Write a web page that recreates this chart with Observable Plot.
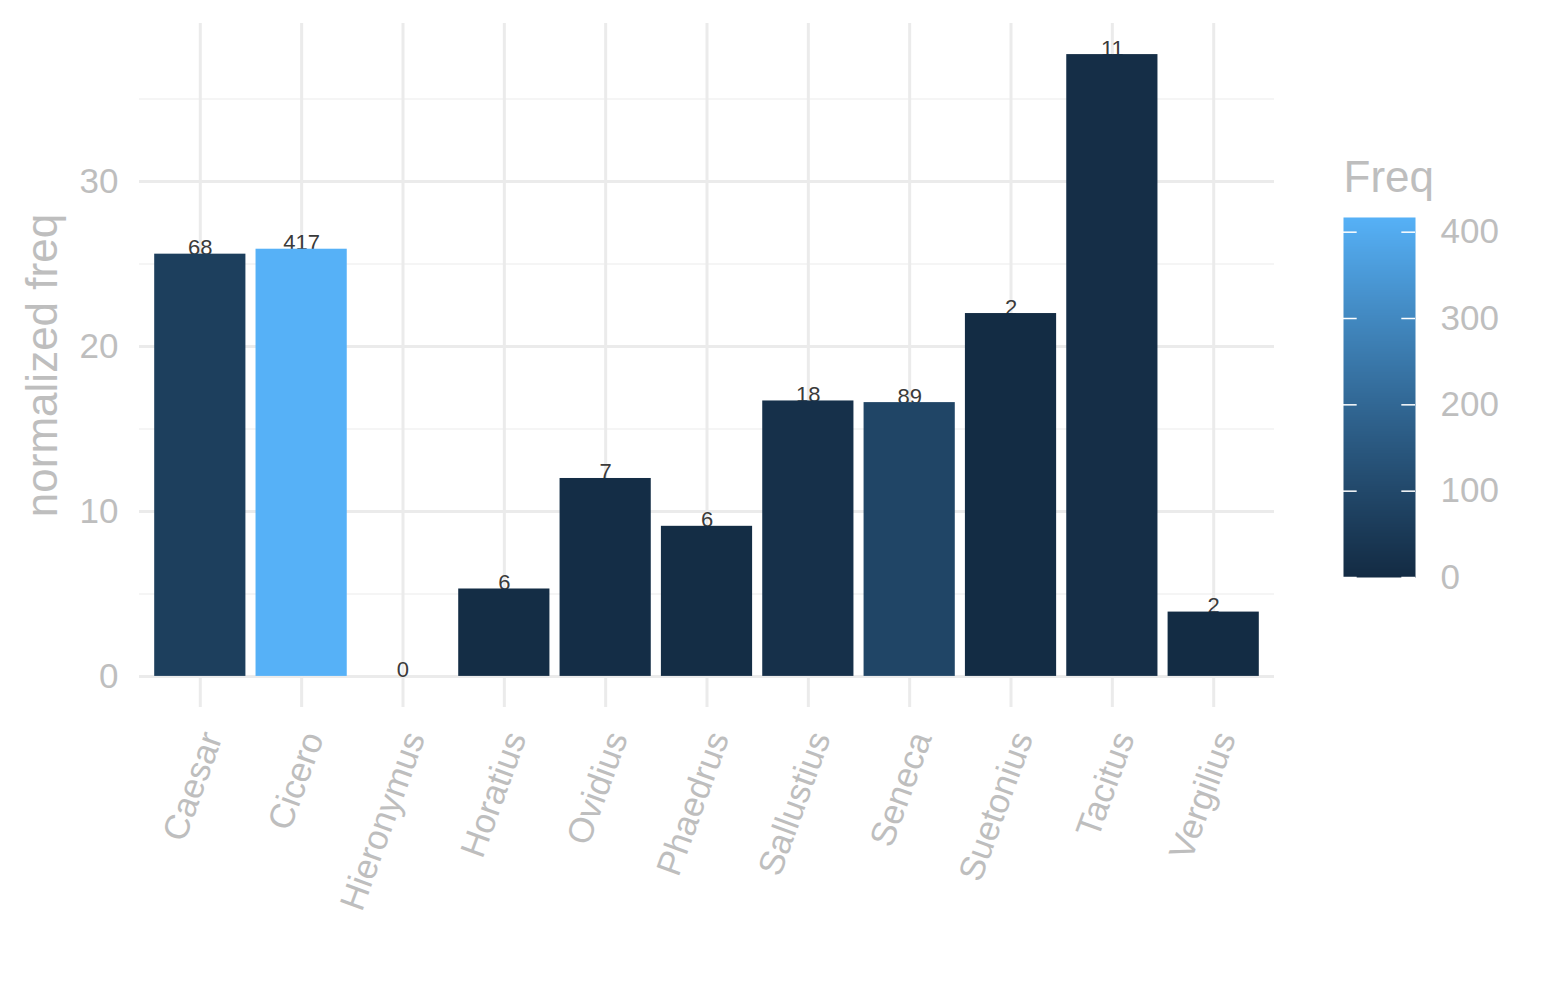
<!DOCTYPE html>
<html>
<head>
<meta charset="utf-8">
<script src="https://cdn.jsdelivr.net/npm/d3@7"></script>
<script src="https://cdn.jsdelivr.net/npm/@observablehq/plot@0.6"></script>
<style>
  body { margin: 0; background: #fff; }
  #wrap { position: relative; width: 1545px; height: 1000px; font-family: "Liberation Sans", Arial, Helvetica, sans-serif; }
  #legend { position: absolute; left: 1343px; top: 150px; }
</style>
</head>
<body>
<div id="wrap"><div id="main"></div><div id="legend"></div></div>
<script>
const authors = ["Caesar","Cicero","Hieronymus","Horatius","Ovidius","Phaedrus","Sallustius","Seneca","Suetonius","Tacitus","Vergilius"];
const normFreq = [25.6, 25.9, 0, 5.3, 12.0, 9.1, 16.7, 16.6, 22.0, 37.7, 3.9];
const freq = [68, 417, 0, 6, 7, 6, 18, 89, 2, 11, 2];
const yMajor = [0, 10, 20, 30];
const yMinor = [5, 15, 25, 35];
const legendTicks = [0, 100, 200, 300, 400];

const data = authors.map((a, i) => ({author: a, value: normFreq[i], freq: freq[i]}));
const grey = "#BEBEBE";
const font = "'Liberation Sans', Arial, Helvetica, sans-serif";
const colorScale = {type: "linear", domain: [0, 417], range: ["#132B43", "#56B1F7"], interpolate: d3.interpolateLab};

const main = Plot.plot({
  width: 1545, height: 1000,
  marginLeft: 139, marginRight: 271, marginTop: 23, marginBottom: 293,
  style: {fontFamily: font, background: "white"},
  x: {type: "band", domain: authors, paddingInner: 0.1, paddingOuter: 0.15, round: false, axis: null},
  y: {domain: [-1.885, 39.585], axis: null},
  color: colorScale,
  marks: [
    Plot.ruleY(yMinor, {stroke: "#F2F2F2", strokeWidth: 1.5}),
    Plot.ruleY(yMajor, {stroke: "#EBEBEB", strokeWidth: 3}),
    Plot.ruleX(authors, {x: d => d, stroke: "#EBEBEB", strokeWidth: 3}),
    Plot.text(data, {x: "author", y: "value", text: d => String(d.freq), lineAnchor: "bottom", dy: 1, fontSize: 22, fill: "#3a3a3a"}),
    Plot.barY(data, {x: "author", y: "value", fill: "freq"}),
    Plot.axisY(yMajor, {tickSize: 0, tickPadding: 21, fontSize: 35, fill: grey, label: null}),
    Plot.axisX({tickSize: 0, tickPadding: 26, tickRotate: -70, dx: 12, fontSize: 35, fill: grey, label: null}),
    Plot.text(["normalized freq"], {frameAnchor: "left", textAnchor: "middle", dx: -97, rotate: -90, fontSize: 44, fill: grey})
  ]
});
document.getElementById("main").appendChild(main);

const legend = Plot.plot({
  width: 200, height: 450,
  marginLeft: 0, marginRight: 128, marginTop: 67, marginBottom: 23,
  style: {fontFamily: font, background: "transparent", overflow: "visible"},
  x: {domain: [0, 1], axis: null},
  y: {domain: [0, 417], axis: null},
  color: colorScale,
  marks: [
    Plot.raster({x1: 0, x2: 1, y1: 0, y2: 417, width: 1, height: 417, fill: (x, y) => y}),
    Plot.ruleY(legendTicks, {y: d => d, x1: 0, x2: 0.19, stroke: "white", strokeWidth: 1.5}),
    Plot.ruleY(legendTicks, {y: d => d, x1: 0.81, x2: 1, stroke: "white", strokeWidth: 1.5}),
    Plot.axisY(legendTicks, {anchor: "right", tickSize: 0, tickPadding: 25, fontSize: 35, fill: grey, label: null}),
    Plot.text(["Freq"], {frameAnchor: "top-left", textAnchor: "start", lineAnchor: "bottom", dy: -26, fontSize: 44, fill: grey})
  ]
});
document.getElementById("legend").appendChild(legend);
</script>
</body>
</html>
